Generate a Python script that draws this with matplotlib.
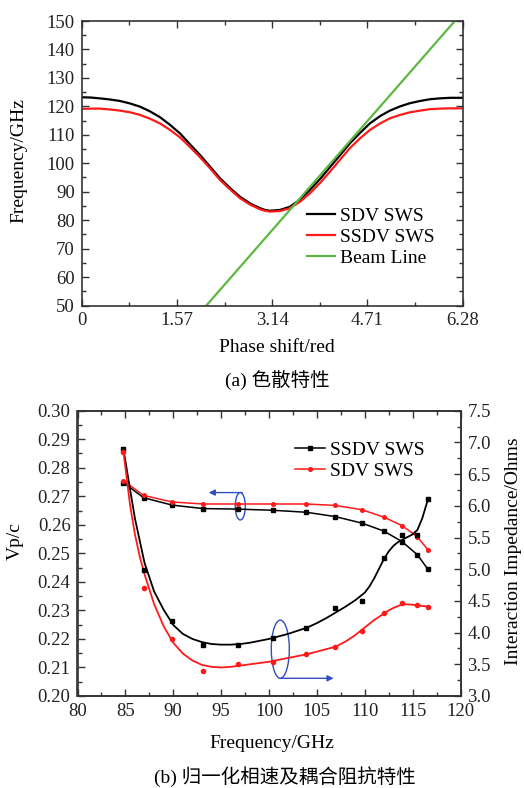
import numpy as np
import matplotlib
matplotlib.use("Agg")
from matplotlib import pyplot as plt
from matplotlib.ticker import MultipleLocator, FixedLocator
from matplotlib.patches import Ellipse

plt.rcParams['font.family'] = ['Liberation Serif', 'Noto Sans CJK SC']
plt.rcParams['mathtext.default'] = 'regular'

# (a) dispersion data
phase = [0, 0.15, 0.30, 0.47, 0.63, 0.80, 0.96, 1.12, 1.29, 1.45, 1.62, 1.78, 1.95, 2.12,
         2.28, 2.45, 2.61, 2.78, 2.94, 3.02, 3.10, 3.27, 3.43, 3.60, 3.76, 3.93, 4.09, 4.26,
         4.42, 4.59, 4.75, 4.92, 5.08, 5.25, 5.41, 5.58, 5.74, 5.90, 6.07, 6.28]
freq_sdv = [123.2, 123.1, 122.8, 122.4, 121.9, 121.0, 119.9, 118.3, 116.2, 113.6, 110.5,
            106.8, 102.9, 98.7, 94.7, 91.2, 88.2, 85.8, 84.2, 83.6, 83.3, 83.6, 84.7, 87.2,
            90.6, 94.5, 98.6, 102.9, 107.0, 110.7, 114.0, 116.6, 118.5, 120.0, 121.1, 121.9,
            122.5, 122.8, 123.0, 123.0]
freq_ssdv = [119.1, 119.2, 119.2, 118.9, 118.5, 117.9, 117.0, 115.7, 114.0, 111.8, 109.1,
             105.8, 102.1, 98.1, 94.1, 90.7, 87.7, 85.4, 83.8, 83.3, 83.0, 83.2, 84.2, 86.5,
             89.4, 93.1, 97.0, 101.3, 105.3, 108.8, 111.7, 114.0, 115.8, 117.0, 117.9, 118.5,
             119.0, 119.2, 119.3, 119.3]
beam_phase = [2.055, 6.15]
beam_freq = [50, 150]

# (b) normalized phase velocity and interaction impedance
f_pts = [84.8, 86.9, 89.9, 93.1, 96.8, 100.4, 103.9, 106.9, 109.7, 112.0, 113.9, 115.5, 116.6]
vp_ssdv = [0.2748, 0.2695, 0.2669, 0.2657, 0.2655, 0.2651, 0.2644, 0.2629, 0.2606, 0.2578,
           0.2541, 0.2495, 0.2444]
vp_sdv = [0.2755, 0.2703, 0.2680, 0.2673, 0.2673, 0.2673, 0.2673, 0.2668, 0.2653, 0.2627,
          0.2597, 0.2558, 0.2512]
kc_ssdv = [6.89, 4.98, 4.18, 3.80, 3.81, 3.91, 4.07, 4.39, 4.50, 5.17, 5.54, 5.54, 6.10]
kc_sdv = [6.85, 4.70, 3.90, 3.39, 3.50, 3.54, 3.66, 3.77, 4.03, 4.31, 4.46, 4.43, 4.40]

# smooth fitted impedance curves
f_fit = [84.8, 85.5, 86, 86.5, 87, 88, 89, 90, 91, 92, 93, 94, 95, 96, 97, 98, 99, 100,
         101, 102, 103, 104, 105, 106, 107, 108, 109, 110, 110.5, 111, 111.5, 112, 112.5,
         113, 113.5, 114, 115, 115.5, 116, 116.6]
kc_ssdv_fit = [6.89, 6.25, 5.80, 5.45, 5.10, 4.65, 4.36, 4.12, 3.98, 3.90, 3.85, 3.82, 3.81,
               3.81, 3.82, 3.84, 3.87, 3.90, 3.94, 3.98, 4.03, 4.08, 4.15, 4.23, 4.32, 4.41,
               4.51, 4.63, 4.73, 4.86, 5.01, 5.16, 5.28, 5.37, 5.43, 5.47, 5.55, 5.62, 5.80,
               6.10]
kc_sdv_fit = [6.85, 6.00, 5.55, 5.20, 4.92, 4.45, 4.10, 3.84, 3.67, 3.56, 3.49, 3.46, 3.45,
              3.46, 3.48, 3.50, 3.52, 3.54, 3.57, 3.60, 3.63, 3.66, 3.70, 3.74, 3.78, 3.86,
              3.96, 4.08, 4.14, 4.20, 4.25, 4.30, 4.35, 4.39, 4.42, 4.45, 4.44, 4.43, 4.42,
              4.41]

blue = '#2f4fc0'
red = '#ff1a1a'
green = '#5cb843'
spine_c = '#333333'

fig = plt.figure(figsize=(5.24, 7.88), dpi=100)
W, H = 524, 788


def style(ax):
    for s in ax.spines.values():
        s.set_color(spine_c)
        s.set_linewidth(1.2)
    ax.tick_params(which='both', direction='in', colors=spine_c, labelcolor='#222222',
                   labelsize=13.5, width=1.0)
    ax.tick_params(which='major', length=5, pad=5)
    ax.tick_params(which='minor', length=3)


# ---------- (a) ----------
ax1 = fig.add_axes([81.7 / W, 1 - 305.5 / H, 381 / W, 284.5 / H])
ax1.plot(phase, freq_sdv, color='black', lw=1.6, label='SDV SWS')
ax1.plot(phase, freq_ssdv, color=red, lw=1.6, label='SSDV SWS')
ax1.plot(beam_phase, beam_freq, color=green, lw=1.6, label='Beam Line')
ax1.set_xlim(0, 6.28)
ax1.set_ylim(50, 150)
ax1.xaxis.set_major_locator(FixedLocator([0, 1.57, 3.14, 4.71, 6.28]))
ax1.set_xticklabels(['0', '1.57', '3.14', '4.71', '6.28'])
ax1.xaxis.set_minor_locator(FixedLocator([0.785, 2.355, 3.925, 5.495]))
ax1.yaxis.set_major_locator(MultipleLocator(10))
ax1.yaxis.set_minor_locator(MultipleLocator(5))
style(ax1)
ax1.tick_params(which='both', top=True, right=True)
ax1.set_xlabel('Phase shift/red', fontsize=14, va='center')
ax1.xaxis.set_label_coords(0.513, -0.146)
ax1.set_ylabel('Frequency/GHz', fontsize=14, va='center')
ax1.yaxis.set_label_coords(-0.165, 0.508)
ax1.legend(loc='upper left', bbox_to_anchor=(307 / W, 1 - 207 / H),
           bbox_transform=fig.transFigure, frameon=False, fontsize=14,
           handlelength=1.45, handletextpad=0.25, labelspacing=0.19,
           borderpad=0, borderaxespad=0)
fig.text(277 / W, 1 - 380 / H, '(a) 色散特性', fontsize=14, ha='center', va='center')

# ---------- (b) ----------
ax = fig.add_axes([77.5 / W, 1 - 696 / H, 383 / W, 285.3 / H])
ax2 = ax.twinx()
ax.plot(f_pts, vp_ssdv, color='black', lw=1.1, marker='s', ms=2.6, label='SSDV SWS')
ax.plot(f_pts, vp_sdv, color=red, lw=1.1, marker='o', ms=2.6, label='SDV SWS')
ax2.plot(f_fit, kc_ssdv_fit, color='black', lw=1.3)
ax2.plot(f_fit, kc_sdv_fit, color=red, lw=1.3)
ax2.plot(f_pts, kc_ssdv, ls='none', color='black', marker='s', ms=3)
ax2.plot(f_pts, kc_sdv, ls='none', color=red, marker='o', ms=3)

ax.set_xlim(80, 120)
ax.set_ylim(0.20, 0.30)
ax2.set_ylim(3.0, 7.5)
ax.xaxis.set_major_locator(MultipleLocator(5))
ax.xaxis.set_minor_locator(MultipleLocator(2.5))
ax.yaxis.set_major_locator(MultipleLocator(0.01))
ax.yaxis.set_minor_locator(MultipleLocator(0.005))
ax.yaxis.set_major_formatter(plt.FormatStrFormatter('%.2f'))
ax2.yaxis.set_major_locator(MultipleLocator(0.5))
ax2.yaxis.set_minor_locator(MultipleLocator(0.25))
ax2.yaxis.set_major_formatter(plt.FormatStrFormatter('%.1f'))
style(ax)
style(ax2)
ax.tick_params(which='both', top=True, right=False)
ax.set_xlabel('Frequency/GHz', fontsize=14, va='center')
ax.xaxis.set_label_coords(0.507, -0.166)
ax.set_ylabel('Vp/c', fontsize=14, va='center')
ax.yaxis.set_label_coords(-0.162, 0.544)
ax2.set_ylabel('Interaction Impedance/Ohms', fontsize=14, va='center')
ax2.yaxis.set_label_coords(1.138, 0.506)

# blue marks pointing to the axes
ax.add_patch(Ellipse((97.0, 0.2665), 1.05, 0.0096, fill=False, ec=blue, lw=1.0))
ax.annotate('', xy=(93.7, 0.2713), xytext=(97.2, 0.2713),
            arrowprops=dict(arrowstyle='-|>', color=blue, lw=1.0, mutation_scale=9,
                            shrinkA=0, shrinkB=0))
ax.add_patch(Ellipse((101.18, 0.2164), 1.88, 0.0204, fill=False, ec=blue, lw=1.0))
ax.annotate('', xy=(106.75, 0.2062), xytext=(101.18, 0.2062),
            arrowprops=dict(arrowstyle='-|>', color=blue, lw=1.0, mutation_scale=9,
                            shrinkA=0, shrinkB=0))

ax.legend(loc='upper left', bbox_to_anchor=(295 / W, 1 - 441 / H),
          bbox_transform=fig.transFigure, frameon=False, fontsize=14,
          handlelength=1.55, handletextpad=0.25, labelspacing=0.17,
          borderpad=0, borderaxespad=0)
fig.text(285 / W, 1 - 776.7 / H, '(b) 归一化相速及耦合阻抗特性', fontsize=14,
         ha='center', va='center')

plt.savefig('out.png', dpi=100)
